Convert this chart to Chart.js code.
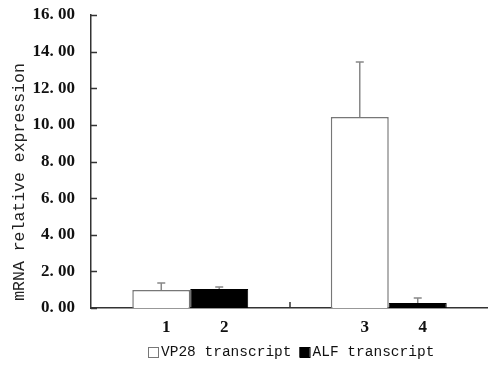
<!DOCTYPE html>
<html><head><meta charset="utf-8">
<script src="https://cdn.jsdelivr.net/npm/chart.js@4/dist/chart.umd.min.js"></script>
<style>html,body{margin:0;padding:0;background:#fff}#wrap{width:488px;height:367px}</style>
</head><body><div id="wrap"><canvas id="c" width="488" height="367"></canvas></div>
<script>
const groups = ['A', 'B'];
const seriesNames = ['VP28 transcript', 'ALF transcript'];
const vp28 = [0.98, 10.43];
const vp28Err = [1.37, 13.43];
const alf = [1.04, 0.27];
const alfErr = [1.15, 0.55];
const barLabels = [['1', '3'], ['2', '4']];
const yTicks = [0, 2, 4, 6, 8, 10, 12, 14, 16];
const yTitle = 'mRNA relative expression';

const errs = [vp28Err, alfErr];

const extras = {
  id: 'extras',
  afterDatasetsDraw(chart) {
    const ctx = chart.ctx, y = chart.scales.y, x = chart.scales.x, area = chart.chartArea;
    ctx.save();
    chart.data.datasets.forEach((ds, di) => {
      const meta = chart.getDatasetMeta(di);
      meta.data.forEach((bar, i) => {
        const top = y.getPixelForValue(errs[di][i]);
        ctx.strokeStyle = '#888';
        ctx.lineWidth = 1.5;
        ctx.beginPath();
        ctx.moveTo(bar.x, bar.y);
        ctx.lineTo(bar.x, top);
        ctx.moveTo(bar.x - 4, top);
        ctx.lineTo(bar.x + 4, top);
        ctx.stroke();
        ctx.fillStyle = '#111';
        ctx.font = 'bold 17px "Liberation Serif"';
        ctx.textAlign = 'center';
        ctx.textBaseline = 'middle';
        ctx.fillText(barLabels[di][i], bar.x + 5, 328);
      });
    });
    ctx.strokeStyle = '#333';
    ctx.lineWidth = 1.5;
    ctx.beginPath();
    yTicks.forEach(v => {
      const py = Math.round(y.getPixelForValue(v)) + 0.5;
      ctx.moveTo(area.left, py);
      ctx.lineTo(area.left + 6, py);
    });
    const mx = Math.round((x.getPixelForValue(0) + x.getPixelForValue(1)) / 2);
    ctx.moveTo(mx, area.bottom);
    ctx.lineTo(mx, area.bottom - 6);
    ctx.stroke();
    ctx.save();
    ctx.translate(20, 182);
    ctx.rotate(-Math.PI / 2);
    ctx.font = '16.5px "Liberation Mono"';
    ctx.fillStyle = '#222';
    ctx.textAlign = 'center';
    ctx.textBaseline = 'middle';
    ctx.fillText(yTitle, 0, 0);
    ctx.restore();
    ctx.font = '14.5px "Liberation Mono"';
    ctx.textAlign = 'left';
    ctx.textBaseline = 'middle';
    let lx = 148;
    const ly = 352;
    chart.data.datasets.forEach(ds => {
      ctx.fillStyle = ds.backgroundColor;
      ctx.fillRect(lx, ly - 5, 10, 10);
      ctx.strokeStyle = ds.borderColor;
      ctx.lineWidth = 1;
      ctx.strokeRect(lx + 0.5, ly - 4.5, 10, 10);
      ctx.fillStyle = '#111';
      ctx.fillText(ds.label, lx + 13, ly);
      lx += 13 + ctx.measureText(ds.label).width + 8;
    });
    ctx.restore();
  }
};

new Chart(document.getElementById('c'), {
  type: 'bar',
  data: {
    labels: groups,
    datasets: [
      { label: seriesNames[0], data: vp28, backgroundColor: '#ffffff', borderColor: '#777', borderWidth: 1.5, borderSkipped: 'bottom' },
      { label: seriesNames[1], data: alf, backgroundColor: '#000000', borderColor: '#000', borderWidth: 1, borderSkipped: 'bottom' }
    ]
  },
  options: {
    responsive: false,
    animation: false,
    devicePixelRatio: 1,
    layout: { padding: { top: 0, right: 0, left: 0, bottom: 0 } },
    plugins: { legend: { display: false }, tooltip: { enabled: false } },
    datasets: { bar: { categoryPercentage: 0.584, barPercentage: 1 } },
    scales: {
      x: {
        grid: { display: false },
        border: { display: true, color: '#333', width: 1.5 },
        ticks: { display: false },
        afterFit(s) { s.height = 59; }
      },
      y: {
        min: 0, max: 16,
        afterBuildTicks(s) { s.ticks = yTicks.map(v => ({ value: v })); },
        grid: { display: false, drawTicks: false },
        border: { display: true, color: '#333', width: 1.5 },
        ticks: {
          padding: 16,
          color: '#111',
          font: { family: '"Liberation Serif"', size: 17, weight: 'bold', lineHeight: 1.2 },
          callback: v => v.toFixed(2).replace('.', '. ')
        },
        afterFit(s) { s.width = 91; s.paddingTop = 15; }
      }
    }
  },
  plugins: [extras]
});
</script></body></html>
